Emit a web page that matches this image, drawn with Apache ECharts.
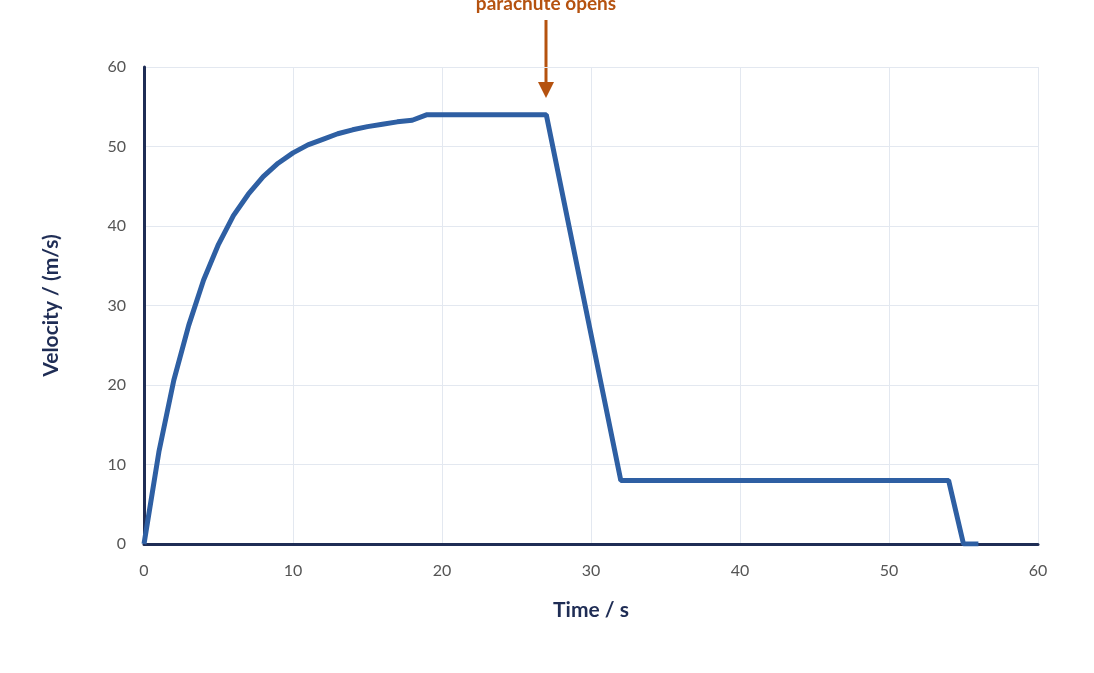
<!DOCTYPE html><html><head><meta charset="utf-8"><script src="https://cdn.jsdelivr.net/npm/echarts@6/dist/echarts.min.js"></script>
<style>html,body{margin:0;background:#fff}#c{width:1094px;height:673px}</style></head><body><div id="c"></div><script>
const times=[0,1,2,3,4,5,6,7,8,9,10,11,12,13,14,15,16,17,18,19,27,32,54,55,56];
const velocities=[0,11.6,20.6,27.5,33.2,37.7,41.3,44,46.2,47.9,49.2,50.2,50.9,51.6,52.1,52.5,52.8,53.1,53.3,54,54,8,8,0,0];
const xTicks=[0,10,20,30,40,50,60];
const yTicks=[0,10,20,30,40,50,60];
const annotation="parachute opens";
const navy='#1f2d55',orange='#b5520f';
const ch=echarts.init(document.getElementById('c'));
ch.setOption({
 animation:false,
 grid:{left:144,right:56,top:67,bottom:129},
 xAxis:{type:'value',min:0,max:60,interval:10,name:'Time / s',nameLocation:'middle',nameGap:56,
  nameTextStyle:{color:navy,fontSize:21,fontWeight:'bold',fontFamily:'Lato'},
  axisLine:{lineStyle:{color:navy,width:3}},axisTick:{show:false},
  axisLabel:{color:'#555',fontSize:16,margin:19,fontFamily:'Lato'},
  splitLine:{lineStyle:{color:'#e3e8f0'}}},
 yAxis:{type:'value',min:0,max:60,interval:10,name:'Velocity / (m/s)',nameLocation:'middle',nameGap:82,
  nameTextStyle:{color:navy,fontSize:21,fontWeight:'bold',fontFamily:'Lato'},
  axisLine:{show:true,lineStyle:{color:navy,width:3}},axisTick:{show:false},
  axisLabel:{color:'#555',fontSize:16,margin:18,fontFamily:'Lato'},
  splitLine:{lineStyle:{color:'#e3e8f0'}}},
 series:[{type:'line',data:times.map((t,i)=>[t,velocities[i]]),showSymbol:false,
  lineStyle:{color:'#2e5fa3',width:5},z:3}],
 graphic:[
  {type:'text',x:546,y:-6,style:{text:annotation,textAlign:'center',fill:orange,font:'bold 19px Lato'}},
  {type:'line',shape:{x1:546,y1:20,x2:546,y2:84},style:{stroke:orange,lineWidth:3}},
  {type:'polygon',shape:{points:[[538,82],[554,82],[546,98]]},style:{fill:orange}}
 ]
});
</script></body></html>
